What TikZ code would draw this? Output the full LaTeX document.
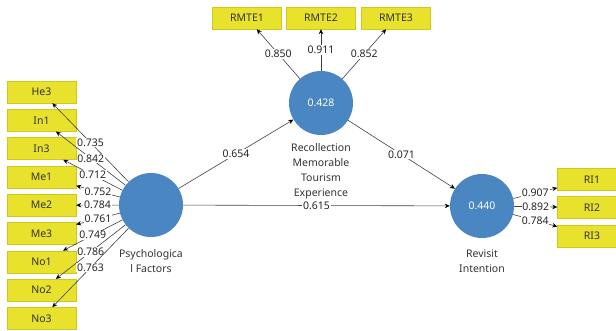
\documentclass[tikz,border=0pt]{standalone}
\usepackage{fontspec}
\setmainfont{Noto Sans}
\usetikzlibrary{arrows.meta}
\definecolor{boxyellow}{HTML}{E8E22C}
\definecolor{boxedge}{HTML}{CFC91E}
\definecolor{lvblue}{HTML}{4A86C2}
\definecolor{linegray}{HTML}{404040}
\tikzset{
  every node/.style={font=\fontsize{10.5}{15}\selectfont},
  ind/.style={draw=boxedge, line width=0.4pt, fill=boxyellow, minimum width=69pt, minimum height=22pt, inner sep=0pt, text=black!80},
  lv/.style={circle, fill=lvblue, minimum size=64pt, inner sep=0pt, text=white},
  lvlabel/.style={align=center, text=black!80},
  conn/.style={draw=linegray, line width=0.6pt, -{Stealth[length=5pt,width=4.5pt,color=black]}},
  coef/.style={fill=white, inner sep=0.8pt, text=black!85}
}
\begin{document}
\begin{tikzpicture}[x=1pt,y=-1pt]
\useasboundingbox (0,0) rectangle (616,330);
% latent variables
\node[lv] (pf) at (151,205) {};
\node[lv] (rmte) at (321,103) {0.428};
\node[lv] (ri) at (482,206) {0.440};
\node[lvlabel] (pfl) at (151,261) {Psychologica\\l Factors};
\node[lvlabel] (rmtel) at (321,171.5) {Recollection\\Memorable\\Tourism\\Experience};
\node[lvlabel] (ril) at (482,261) {Revisit\\Intention};
% left indicators
\node[ind] (he3) at (41.5,92) {He3};
\node[ind] (in1) at (41.5,120.3) {In1};
\node[ind] (in3) at (41.5,148.6) {In3};
\node[ind] (me1) at (41.5,176.9) {Me1};
\node[ind] (me2) at (41.5,205.2) {Me2};
\node[ind] (me3) at (41.5,233.5) {Me3};
\node[ind] (no1) at (41.5,261.8) {No1};
\node[ind] (no2) at (41.5,290.1) {No2};
\node[ind] (no3) at (41.5,318.4) {No3};
% top indicators
\node[ind] (r1) at (247,18) {RMTE1};
\node[ind] (r2) at (321,18) {RMTE2};
\node[ind] (r3) at (396,18) {RMTE3};
% right indicators
\node[ind] (ri1) at (592,179.5) {RI1};
\node[ind] (ri2) at (592,207.5) {RI2};
\node[ind] (ri3) at (592,236) {RI3};
% loadings
\draw[conn] (pf) -- node[coef] {0.735} (he3);
\draw[conn] (pf) -- node[coef] {0.842} (in1);
\draw[conn] (pf) -- node[coef] {0.712} (in3);
\draw[conn] (pf) -- node[coef] {0.752} (me1);
\draw[conn] (pf) -- node[coef] {0.784} (me2);
\draw[conn] (pf) -- node[coef] {0.761} (me3);
\draw[conn] (pf) -- node[coef] {0.749} (no1);
\draw[conn] (pf) -- node[coef] {0.786} (no2);
\draw[conn] (pf) -- node[coef] {0.763} (no3);
\draw[conn] (rmte) -- node[coef] {0.850} (r1);
\draw[conn] (rmte) -- node[coef] {0.911} (r2);
\draw[conn] (rmte) -- node[coef] {0.852} (r3);
\draw[conn] (ri) -- node[coef] {0.907} (ri1);
\draw[conn] (ri) -- node[coef] {0.892} (ri2);
\draw[conn] (ri) -- node[coef] {0.784} (ri3);
% paths
\draw[conn] (pf) -- node[coef] {0.654} (rmte);
\draw[conn] (rmte) -- node[coef] {0.071} (ri);
\draw[conn] (pf) -- node[coef] {0.615} (ri);
\end{tikzpicture}
\end{document}
